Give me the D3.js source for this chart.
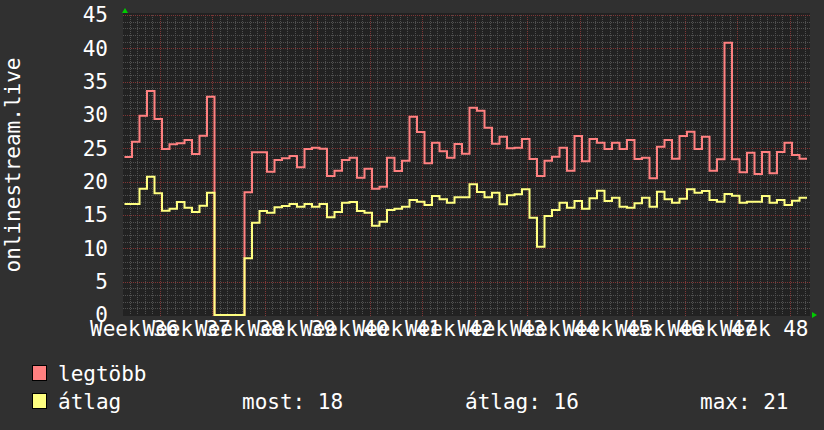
<!DOCTYPE html>
<meta charset="utf-8">
<script src="https://d3js.org/d3.v7.min.js"></script>
<style>
body { margin: 0; background: #303030; }
text { font-family: "DejaVu Sans Mono", monospace; font-size: 21px; fill: #ffffff; }
</style>
<body>
<svg id="graph" width="824" height="430"></svg>
<script>

// daily values, one per day (legtöbb = max, átlag = average)
var maxValues = [23.7, 26.0, 29.9, 33.6, 29.4, 24.9, 25.6, 25.75, 26.25, 24.15,
  26.9, 32.75, 0, 0, 0, 0, 18.4, 24.4, 24.4, 21.5,
  23.25, 23.5, 23.85, 22.15, 24.9, 25.1, 24.95, 20.85, 21.65, 23.25,
  23.6, 20.6, 21.95, 18.95, 19.25, 23.6, 21.6, 23.15, 29.75, 27.45,
  22.75, 25.85, 24.55, 23.6, 25.65, 24.2, 31.1, 30.65, 28.1, 25.7,
  26.75, 25.0, 25.1, 26.4, 23.4, 20.85, 23.15, 23.75, 25.1, 21.65,
  26.85, 23.05, 26.4, 25.85, 24.9, 25.85, 24.9, 26.25, 23.4, 23.6,
  20.5, 25.25, 26.25, 23.45, 26.85, 27.5, 24.9, 26.75, 21.65, 23.35,
  40.85, 23.35, 21.4, 24.35, 21.15, 24.45, 21.25, 24.45, 25.85, 24.0, 23.45];

var avgValues = [16.65, 16.65, 18.95, 20.75, 18.25, 15.65, 15.95, 16.95, 16.1, 15.45,
  16.4, 18.35, 0, 0, 0, 0, 8.5, 13.85, 15.6, 15.35,
  16.15, 16.35, 16.65, 16.25, 16.65, 16.25, 16.65, 14.65, 15.45, 16.85,
  16.95, 15.6, 15.35, 13.4, 14.0, 15.75, 15.95, 16.25, 17.25, 17.0,
  16.5, 17.85, 17.35, 16.85, 17.65, 17.65, 19.6, 18.45, 17.65, 18.35,
  16.6, 17.95, 18.1, 18.85, 14.6, 10.25, 14.85, 15.75, 16.85, 16.1,
  17.1, 15.95, 17.5, 18.65, 17.1, 17.6, 16.25, 16.1, 16.75, 17.6,
  16.25, 18.5, 17.35, 16.85, 17.45, 18.85, 18.35, 18.6, 17.25, 17.0,
  18.15, 17.9, 16.85, 17.0, 17.0, 17.85, 16.85, 17.25, 16.5, 17.15, 17.6];

var weekLabels = ["Week 36", "Week 37", "Week 38", "Week 39", "Week 40", "Week 41",
  "Week 42", "Week 43", "Week 44", "Week 45", "Week 46", "Week 47", "Week 48"];

var yTicks = [0, 5, 10, 15, 20, 25, 30, 35, 40, 45];
var seriesNames = ["legtöbb", "átlag"];
var seriesColors = ["#ff8080", "#ffff80"];
var yTitle = "onlinestream.live";

var svg = d3.select("#graph");

var plotL = 123, plotR = 810, plotT = 15, plotB = 315;
var firstWeek = 4.733; // day offset of the first week boundary

var x = d3.scaleLinear().domain([-0.2, 91.4]).range([plotL, plotR]);
var y = d3.scaleLinear().domain([0, 45]).range([plotB, plotT]);

// plot background
svg.append("rect")
  .attr("x", plotL).attr("y", plotT - 2)
  .attr("width", plotR - plotL).attr("height", plotB - plotT + 3)
  .attr("fill", "#222222");

var grid = svg.append("g");

// minor grid
d3.range(1, 45).filter(function(v) { return v % 5 != 0; }).forEach(function(v) {
  grid.append("line")
    .attr("x1", plotL).attr("x2", plotR)
    .attr("y1", Math.round(y(v)) + 0.5).attr("y2", Math.round(y(v)) + 0.5)
    .attr("stroke", "#505050").attr("stroke-dasharray", "1,1");
});
d3.range(-4, 87).filter(function(j) { return j % 7 != 0; }).forEach(function(j) {
  var xx = Math.round(x(firstWeek + j)) + 0.5;
  grid.append("line")
    .attr("x1", xx).attr("x2", xx)
    .attr("y1", plotT).attr("y2", plotB)
    .attr("stroke", "#505050").attr("stroke-dasharray", "1,1");
});

// major grid
yTicks.slice(1).forEach(function(v) {
  grid.append("line")
    .attr("x1", plotL).attr("x2", plotR)
    .attr("y1", Math.round(y(v)) + 0.5).attr("y2", Math.round(y(v)) + 0.5)
    .attr("stroke", "#803636").attr("stroke-dasharray", "1,1");
});
d3.range(0, 13).forEach(function(k) {
  var xx = Math.round(x(firstWeek + 7 * k)) + 0.5;
  grid.append("line")
    .attr("x1", xx).attr("x2", xx)
    .attr("y1", plotT).attr("y2", plotB + 2)
    .attr("stroke", "#803636").attr("stroke-dasharray", "1,1");
});

// lines
var line = d3.line()
  .x(function(d) { return x(d[0]); })
  .y(function(d) { return y(d[1]); })
  .curve(d3.curveStepAfter);

function points(vals) {
  var p = vals.map(function(v, i) { return [i, v]; });
  p.push([vals.length, vals[vals.length - 1]]);
  return p;
}

[maxValues, avgValues].forEach(function(vals, i) {
  svg.append("path")
    .attr("d", line(points(vals)))
    .attr("fill", "none")
    .attr("stroke", seriesColors[i])
    .attr("stroke-width", 2);
});

// y axis labels
var yAxis = svg.append("g")
  .attr("transform", "translate(" + 108 + ",0)")
  .call(d3.axisLeft(y).tickValues(yTicks).tickSize(0).tickPadding(0));
yAxis.select(".domain").remove();
yAxis.selectAll("text").attr("fill", "#ffffff").style("font-size", "21px")
  .style("font-family", "DejaVu Sans Mono");

// x axis labels (week centres)
var labelPos = weekLabels.map(function(d, k) { return firstWeek - 3.5 + 7 * k; });
var xAxis = svg.append("g")
  .attr("transform", "translate(0," + 321 + ")")
  .call(d3.axisBottom(x).tickValues(labelPos)
    .tickFormat(function(d, i) { return weekLabels[i]; })
    .tickSize(0).tickPadding(0));
xAxis.select(".domain").remove();
xAxis.selectAll("text").attr("fill", "#ffffff").style("font-size", "21px")
  .style("font-family", "DejaVu Sans Mono");

// y title
svg.append("text")
  .attr("transform", "translate(20,165) rotate(-90)")
  .attr("text-anchor", "middle")
  .text(yTitle);

// arrows
svg.append("path").attr("d", "M122,13 L128,13 L125,8 Z").attr("fill", "#00cc00");
svg.append("path").attr("d", "M812,312 L812,318 L817,315 Z").attr("fill", "#00cc00");

// legend
seriesNames.forEach(function(name, i) {
  var ly = 365 + i * 28;
  svg.append("rect")
    .attr("x", 32.5).attr("y", ly + 0.5)
    .attr("width", 14).attr("height", 15)
    .attr("fill", seriesColors[i]).attr("stroke", "#000");
  svg.append("text").attr("x", 58).attr("y", ly + 16).text(name);
});

var now = Math.round(avgValues[avgValues.length - 1]);
var mean = Math.round(d3.mean(avgValues));
var mx = Math.round(d3.max(avgValues));
svg.append("text").attr("x", 242).attr("y", 409).text("most: " + now);
svg.append("text").attr("x", 465).attr("y", 409).text("átlag: " + mean);
svg.append("text").attr("x", 700).attr("y", 409).text("max: " + mx);

</script>
</body>
